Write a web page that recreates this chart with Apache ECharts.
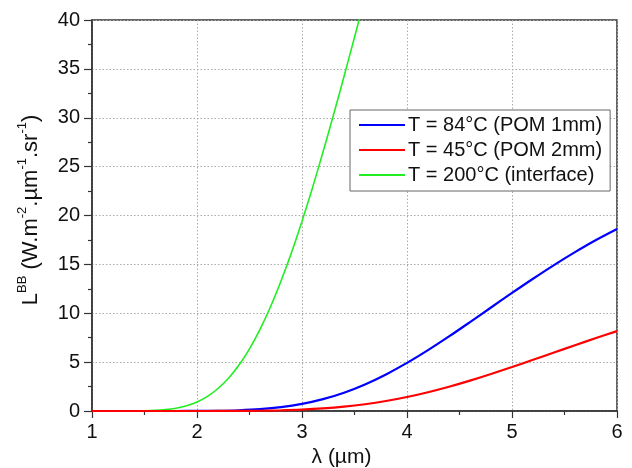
<!DOCTYPE html>
<html>
<head>
<meta charset="utf-8">
<script src="https://cdn.jsdelivr.net/npm/echarts@6/dist/echarts.min.js"></script>
<style>
  html, body { margin: 0; padding: 0; background: #fff; }
  #chart { width: 632px; height: 468px; }
</style>
</head>
<body>
<div id="chart"></div>
<script>
// Blackbody spectral radiance L(λ) in W·m⁻²·µm⁻¹·sr⁻¹
const lambdaHot = [1.0, 1.2, 1.4, 1.5, 1.6, 1.7, 1.8, 1.9, 2.0, 2.1, 2.2, 2.3, 2.4, 2.5,
  2.6, 2.7, 2.8, 2.9, 3.0, 3.1, 3.2, 3.3, 3.4, 3.5, 3.6, 3.7];
const radInterface = [0.0, 0.0005, 0.008, 0.025, 0.063, 0.143, 0.29, 0.538, 0.928, 1.50, 2.30,
  3.35, 4.70, 6.36, 8.35, 10.66, 13.30, 16.21, 19.42, 22.85, 26.49, 30.30, 34.22, 38.24, 42.26, 46.3];

const lambdaPom = [1.0, 1.2, 1.4, 1.6, 1.8, 2.0, 2.2, 2.4, 2.6, 2.8, 3.0, 3.2, 3.4, 3.6, 3.8,
  4.0, 4.2, 4.4, 4.6, 4.8, 5.0, 5.2, 5.4, 5.6, 5.8, 6.0];
const radPom1mm = [0, 0, 0, 0.0001, 0.0012, 0.0067, 0.0258, 0.0767, 0.187, 0.391, 0.722, 1.210,
  1.874, 2.720, 3.742, 4.919, 6.224, 7.627, 9.095, 10.589, 12.079, 13.532, 14.93, 16.25, 17.49, 18.62];
const radPom2mm = [0, 0, 0, 0, 0, 0.0006, 0.0027, 0.0098, 0.028, 0.0669, 0.139, 0.259,
  0.439, 0.690, 1.020, 1.430, 1.921, 2.483, 3.108, 3.784, 4.498, 5.236, 5.984, 6.728, 7.46, 8.17];

const seriesNames = ['T = 84°C (POM 1mm)', 'T = 45°C (POM 2mm)', 'T = 200°C (interface)'];
const seriesColors = ['#0000ff', '#ff0000', '#22ee22'];
const xTicks = [1, 2, 3, 4, 5, 6];
const yTicks = [0, 5, 10, 15, 20, 25, 30, 35, 40];

const pairs = (xs, ys) => xs.map((x, i) => [x, ys[i]]);

const FONT = '"Liberation Sans", Arial, sans-serif';
const TXT = '#111';
const chart = echarts.init(document.getElementById('chart'), null, { renderer: 'canvas' });

chart.setOption({
  backgroundColor: '#fff',
  animation: false,
  grid: {
    left: 92, right: 15, top: 20, bottom: 57,
    containLabel: false, outerBoundsMode: 'none',
    show: true, borderColor: '#333', borderWidth: 1.5, backgroundColor: 'transparent'
  },
  legend: {
    orient: 'vertical',
    left: 350, top: 110,
    padding: [5, 8, 6, 9],
    itemGap: 5,
    itemWidth: 46, itemHeight: 2.2,
    icon: 'rect',
    backgroundColor: '#fff',
    borderColor: '#666', borderWidth: 1,
    textStyle: { fontFamily: FONT, fontSize: 20, color: TXT, padding: [0, 0, 0, -2] },
    data: seriesNames
  },
  xAxis: {
    type: 'value', min: xTicks[0], max: xTicks[xTicks.length - 1], interval: 1,
    name: 'λ (µm)', nameLocation: 'middle', nameGap: 36,
    nameTextStyle: { fontFamily: FONT, fontSize: 21, color: TXT, padding: [0, 26, 0, 0] },
    axisLine: { show: true, onZero: false, lineStyle: { color: '#333', width: 1.5 } },
    axisTick: { show: true, length: 7, lineStyle: { color: '#333', width: 1.2 } },
    minorTick: { show: true, splitNumber: 2, length: 4, lineStyle: { color: '#333', width: 1.2 } },
    axisLabel: { fontFamily: FONT, fontSize: 20, color: TXT, margin: 11 },
    splitLine: { show: true, lineStyle: { color: '#aaa', type: [1.5, 2], width: 1 } }
  },
  yAxis: {
    type: 'value', min: yTicks[0], max: yTicks[yTicks.length - 1], interval: 5,
    name: '{m|L}{s|BB}{m| (W.m}{s|-2}{m|.µm}{s|-1}{m|.sr}{s|-1}{m|)}',
    nameLocation: 'middle', nameGap: 50, nameRotate: 90,
    nameTextStyle: {
      fontFamily: FONT, color: TXT, padding: [0, 0, 0, 11],
      rich: {
        m: { fontFamily: FONT, fontSize: 22, color: TXT, lineHeight: 26, verticalAlign: 'bottom' },
        s: { fontFamily: FONT, fontSize: 13, color: TXT, lineHeight: 26, verticalAlign: 'top' }
      }
    },
    axisLine: { show: true, lineStyle: { color: '#333', width: 1.5 } },
    axisTick: { show: true, length: 8, lineStyle: { color: '#333', width: 1.2 } },
    minorTick: { show: true, splitNumber: 2, length: 4, lineStyle: { color: '#333', width: 1.2 } },
    axisLabel: { fontFamily: FONT, fontSize: 20, color: TXT, margin: 12 },
    splitLine: { show: true, lineStyle: { color: '#aaa', type: [1.5, 2], width: 1 } }
  },
  series: [
    {
      name: seriesNames[0], type: 'line', data: pairs(lambdaPom, radPom1mm),
      symbol: 'none', smooth: 0.3, clip: true,
      lineStyle: { color: seriesColors[0], width: 2.2 }, itemStyle: { color: seriesColors[0] }, z: 3
    },
    {
      name: seriesNames[1], type: 'line', data: pairs(lambdaPom, radPom2mm),
      symbol: 'none', smooth: 0.3, clip: true,
      lineStyle: { color: seriesColors[1], width: 2.2 }, itemStyle: { color: seriesColors[1] }, z: 4
    },
    {
      name: seriesNames[2], type: 'line', data: pairs(lambdaHot, radInterface),
      symbol: 'none', smooth: 0.3, clip: true,
      lineStyle: { color: seriesColors[2], width: 1.6 }, itemStyle: { color: seriesColors[2] }, z: 2
    }
  ]
});
</script>
</body>
</html>
